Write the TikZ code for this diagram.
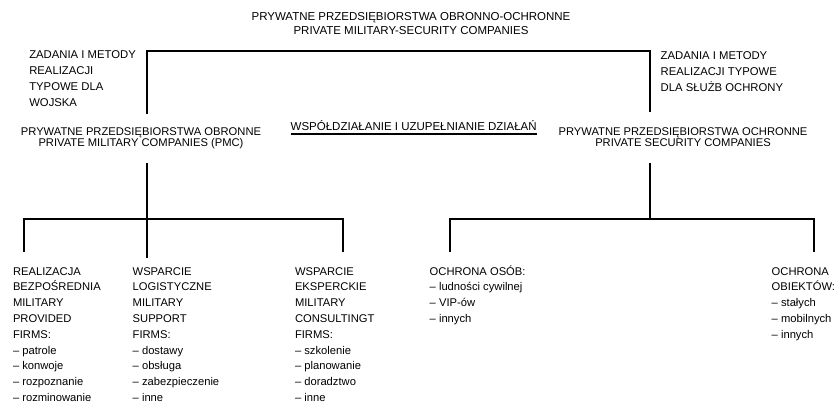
\documentclass[tikz,border=0pt]{standalone}
\usepackage{fontspec}
\setmainfont{Liberation Sans}
\newcommand{\tp}{\rule{0pt}{12pt}}
\newcommand{\bp}{\rule{0pt}{11.5pt}}
\begin{document}
\begin{tikzpicture}[x=1pt,y=-1pt,
  tree/.style={line width=2pt, draw=black, line join=miter},
  txt/.style={inner sep=0pt, outer sep=0pt, text=black},
  title/.style={txt, align=center, font=\fontsize{11.5}{14}\selectfont},
  lbl/.style={txt, align=left, font=\fontsize{11.3}{15.9}\selectfont},
  comp/.style={txt, align=center, font=\fontsize{11.2}{11.8}\selectfont},
  coop/.style={txt, font=\fontsize{11.5}{14}\selectfont},
  leaf/.style={txt, align=left, font=\fontsize{11.2}{15.8}\selectfont}]
\useasboundingbox (0,0) rectangle (838,405);

% texts
\node[title, anchor=north] (title) at (411,8.7)
  {\tp PRYWATNE PRZEDSIĘBIORSTWA OBRONNO-OCHRONNE\\PRIVATE MILITARY-SECURITY COMPANIES};
\node[lbl, anchor=north west] (zl) at (29.3,46.8)
  {\tp ZADANIA I METODY\\REALIZACJI\\TYPOWE DLA\\WOJSKA};
\node[lbl, anchor=north west] (zr) at (660.7,47.3)
  {\tp ZADANIA I METODY\\REALIZACJI TYPOWE\\DLA SŁUŻB OCHRONY};
\node[comp, anchor=north] (pmc) at (141,123)
  {\tp PRYWATNE PRZEDSIĘBIORSTWA OBRONNE\\PRIVATE MILITARY COMPANIES (PMC)};
\node[comp, anchor=north] (psc) at (683,123)
  {\tp PRYWATNE PRZEDSIĘBIORSTWA OCHRONNE\\PRIVATE SECURITY COMPANIES};
\node[coop, anchor=base west] (coop) at (290.7,130.7)
  {WSPÓŁDZIAŁANIE I UZUPEŁNIANIE DZIAŁAŃ};
\draw[line width=1.3pt, black] ([yshift=-3.3pt]coop.base west) -- ([yshift=-3.3pt]coop.base east);

\node[leaf, anchor=north west] (mpf) at (13,263.5)
  {\bp REALIZACJA\\BEZPOŚREDNIA\\MILITARY\\PROVIDED\\FIRMS:\\– patrole\\– konwoje\\– rozpoznanie\\– rozminowanie};
\node[leaf, anchor=north west] (msf) at (132.7,263.5)
  {\bp WSPARCIE\\LOGISTYCZNE\\MILITARY\\SUPPORT\\FIRMS:\\– dostawy\\– obsługa\\– zabezpieczenie\\– inne};
\node[leaf, anchor=north west] (mcf) at (295,263.5)
  {\bp WSPARCIE\\EKSPERCKIE\\MILITARY\\CONSULTINGT\\FIRMS:\\– szkolenie\\– planowanie\\– doradztwo\\– inne};
\node[leaf, anchor=north west] (oso) at (429.7,263.5)
  {\bp OCHRONA OSÓB:\\– ludności cywilnej\\– VIP-ów\\– innych};
\node[leaf, anchor=north west] (obi) at (771.7,263.5)
  {\bp OCHRONA\\OBIEKTÓW:\\– stałych\\– mobilnych\\– innych};

% junction coordinates
\coordinate (pmcUp) at (147,114);
\coordinate (pscUp) at (650,112);
\coordinate (tb) at (0,51);
\coordinate (pmcDn) at (147,163);
\coordinate (pscDn) at (650,163);
\coordinate (hb) at (0,219);
\coordinate (mpfUp) at (24,251.7);
\coordinate (msfUp) at (147,258.3);
\coordinate (mcfUp) at (343,251.7);
\coordinate (osoUp) at (450,251.7);
\coordinate (obiUp) at (814,251.7);

% connectors
\draw[tree] (pmcUp) -- (pmcUp |- tb) -- (pscUp |- tb) -- (pscUp);
\draw[tree] (pmcDn) -- (msfUp);
\draw[tree] (mpfUp) -- (mpfUp |- hb) -- (mcfUp |- hb) -- (mcfUp);
\draw[tree] (pscDn) -- (pscDn |- hb);
\draw[tree] (osoUp) -- (osoUp |- hb) -- (obiUp |- hb) -- (obiUp);
\end{tikzpicture}
\end{document}
